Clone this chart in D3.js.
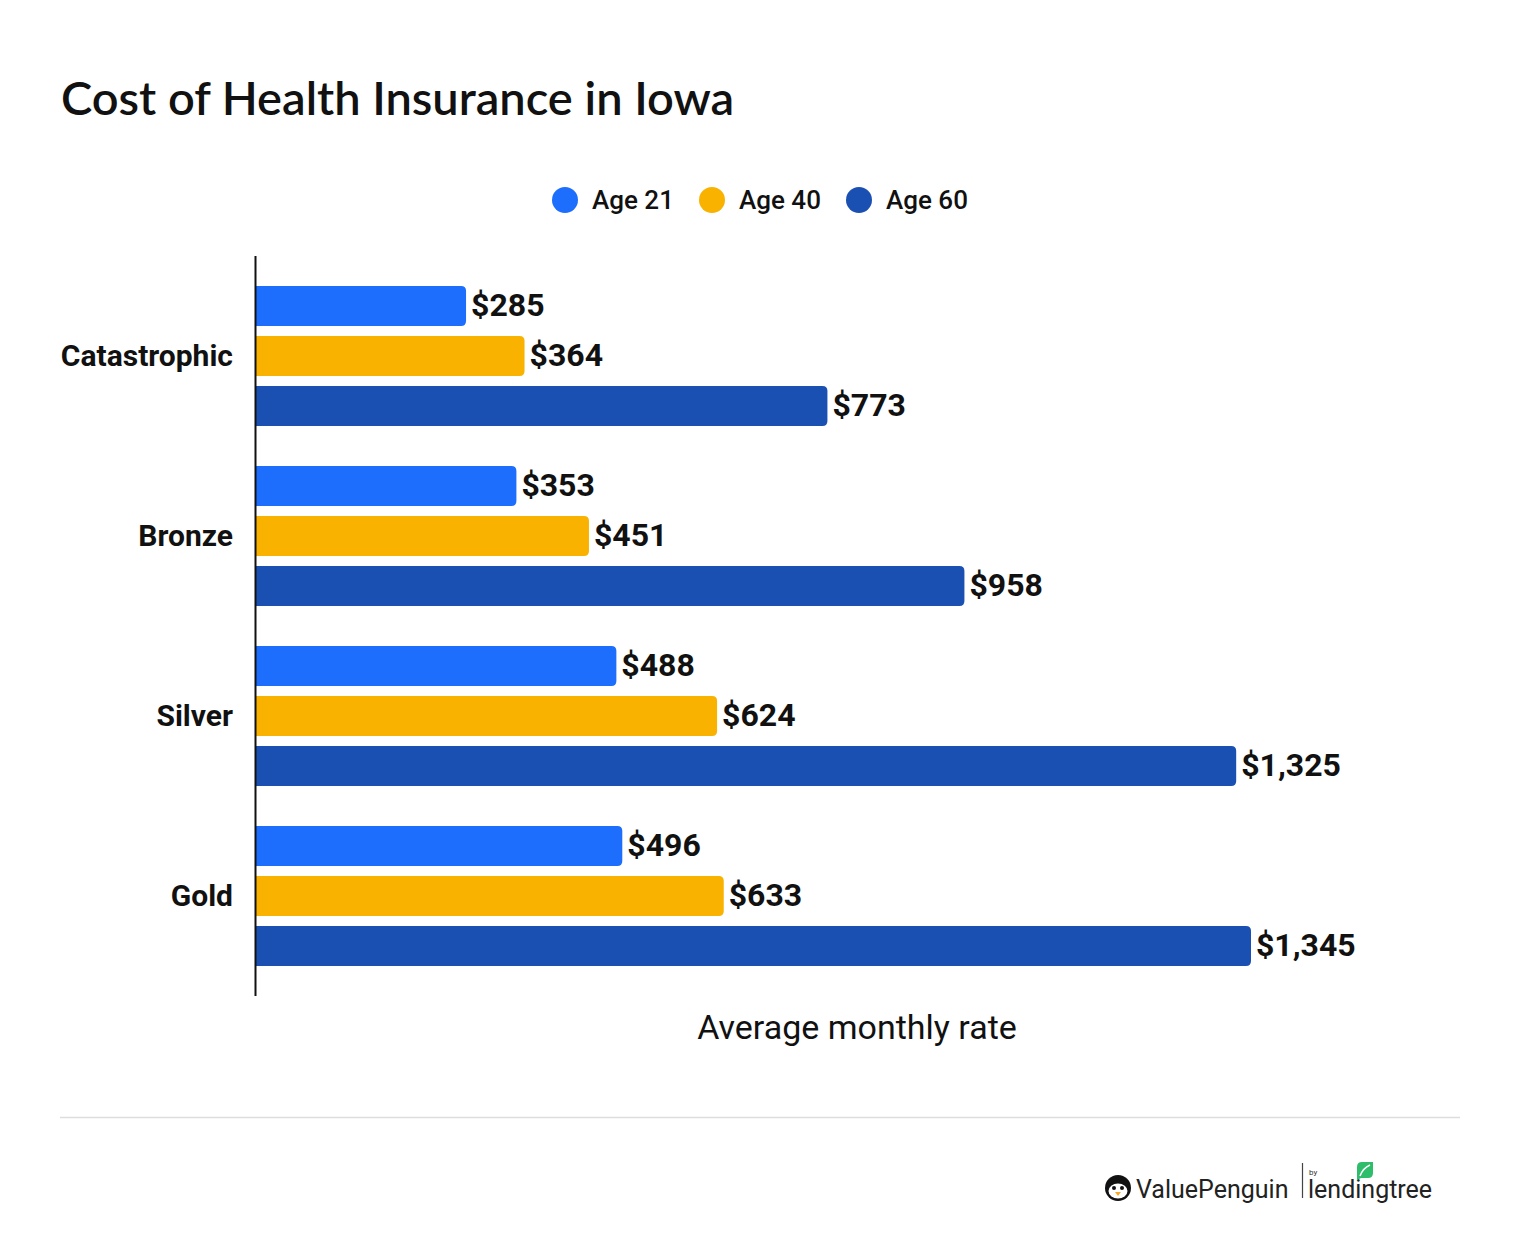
<!DOCTYPE html>
<html>
<head>
<meta charset="utf-8">
<script src="https://cdn.jsdelivr.net/npm/d3@7"></script>
<style>
  body { margin: 0; background: white; }
</style>
</head>
<body>
<div id="chart"></div>
<script>
// Plan levels and ages
const plans = ["Catastrophic", "Bronze", "Silver", "Gold"];
const ages = ["Age 21", "Age 40", "Age 60"];
const age21 = [285, 353, 488, 496];
const age40 = [364, 451, 624, 633];
const age60 = [773, 958, 1325, 1345];
const colors = ["#1E6EFE", "#F9B200", "#1B50B3"];

const data = [];
plans.forEach((p, i) => {
  [age21, age40, age60].forEach((s, j) => {
    data.push({ plan: p, age: ages[j], value: s[i] });
  });
});

let width = 1520, height = 1250;

let svg = d3.select('#chart')
            .append('svg')
            .attr('width', width)
            .attr('height', height)
            .style('background', 'white');

// Title
svg.append("text")
   .attr("x", 61)
   .attr("y", 115)
   .attr("font-family", "Lato")
   .attr("font-size", "47px")
   .attr("font-weight", "600")
   .attr("fill", "#111")
   .text("Cost of Health Insurance in Iowa");

// Legend
const legendX = [565, 712, 859];
ages.forEach((a, i) => {
  svg.append("circle")
     .attr("cx", legendX[i])
     .attr("cy", 200)
     .attr("r", 13)
     .attr("fill", colors[i]);
  svg.append("text")
     .attr("x", legendX[i] + 27)
     .attr("y", 200)
     .attr("dy", "0.35em")
     .attr("font-family", "Roboto")
     .attr("font-size", "26px")
     .attr("font-weight", "500")
     .attr("fill", "#111")
     .text(a);
});

// Scales
const x = d3.scaleLinear()
            .domain([0, 1345])
            .range([255, 1251]);

const y0 = d3.scaleBand()
             .domain(plans)
             .range([266, 986])
             .paddingInner(0)
             .paddingOuter(0);

const y1 = d3.scaleBand()
             .domain(ages)
             .range([20, 160])
             .paddingInner(0.2)
             .paddingOuter(0);

const color = d3.scaleOrdinal().domain(ages).range(colors);

// Bars with rounded right end
const r = 5;
function barPath(d) {
  const x0 = x(0), x1 = x(d.value);
  const top = y0(d.plan) + y1(d.age);
  const h = y1.bandwidth();
  return `M${x0},${top} H${x1 - r} Q${x1},${top} ${x1},${top + r} ` +
         `V${top + h - r} Q${x1},${top + h} ${x1 - r},${top + h} H${x0} Z`;
}

svg.selectAll("path.bar")
   .data(data)
   .enter()
   .append("path")
   .attr("class", "bar")
   .attr("d", barPath)
   .attr("fill", d => color(d.age));

// Value labels
svg.selectAll("text.val")
   .data(data)
   .enter()
   .append("text")
   .attr("class", "val")
   .attr("x", d => x(d.value) + 5)
   .attr("y", d => y0(d.plan) + y1(d.age) + y1.bandwidth() / 2)
   .attr("dy", "0.31em")
   .attr("font-family", "Roboto")
   .attr("font-weight", "bold")
   .attr("font-size", "32px")
   .attr("fill", "#111")
   .text(d => "$" + d3.format(",")(d.value));

// Y axis (categories)
const yaxis = svg.append('g')
   .attr('transform', `translate(255,0)`)
   .call(d3.axisLeft(y0).tickSize(0).tickPadding(22));
yaxis.select(".domain").remove();
yaxis.selectAll("text")
   .attr("font-family", "Roboto")
   .attr("font-weight", "bold")
   .attr("font-size", "30px")
   .attr("fill", "#111");

svg.append("line")
   .attr("x1", 255.5).attr("x2", 255.5)
   .attr("y1", 256).attr("y2", 996)
   .attr("stroke", "#111")
   .attr("stroke-width", 2);

// X axis title
svg.append("text")
   .attr("x", 857)
   .attr("y", 1027)
   .attr("dy", "0.35em")
   .attr("text-anchor", "middle")
   .attr("font-family", "Roboto")
   .attr("font-size", "34px")
   .attr("fill", "#111")
   .text("Average monthly rate");

// Separator
svg.append("line")
   .attr("x1", 60).attr("x2", 1460)
   .attr("y1", 1117.5).attr("y2", 1117.5)
   .attr("stroke", "#ddd")
   .attr("stroke-width", 1.5);

// Logo
const logo = svg.append("g").attr("transform", "translate(1105,1170)");
logo.append("circle").attr("cx", 13).attr("cy", 18).attr("r", 13).attr("fill", "#111");
logo.append("ellipse").attr("cx", 13).attr("cy", 21).attr("rx", 9.5).attr("ry", 7.5).attr("fill", "white");
logo.append("circle").attr("cx", 9).attr("cy", 18).attr("r", 2).attr("fill", "#111");
logo.append("circle").attr("cx", 17).attr("cy", 18).attr("r", 2).attr("fill", "#111");
logo.append("path").attr("d", "M10,22 L16,22 L13,26 Z").attr("fill", "#F9A825");
logo.append("text")
    .attr("x", 31).attr("y", 28)
    .attr("font-family", "Roboto")
    .attr("font-size", "25px")
    .attr("fill", "#222")
    .text("ValuePenguin");
logo.append("line")
    .attr("x1", 197.5).attr("x2", 197.5)
    .attr("y1", -7).attr("y2", 28)
    .attr("stroke", "#444").attr("stroke-width", 1.2);
logo.append("text")
    .attr("x", 204).attr("y", 5)
    .attr("font-family", "Roboto")
    .attr("font-size", "8px")
    .attr("fill", "#333")
    .text("by");
logo.append("text")
    .attr("x", 203).attr("y", 28)
    .attr("font-family", "Roboto")
    .attr("font-size", "25px")
    .attr("fill", "#222")
    .text("lendingtree");
logo.append("path")
    .attr("d", "M252,10 L252,-3 Q252,-8 257,-8 L268,-8 L268,3 Q268,8 263,8 L256,8 Z")
    .attr("fill", "#2EBD6B");
logo.append("path")
    .attr("d", "M255,6 Q258,-2 265,-5")
    .attr("stroke", "white").attr("stroke-width", 1.5).attr("fill", "none");
</script>
</body>
</html>
